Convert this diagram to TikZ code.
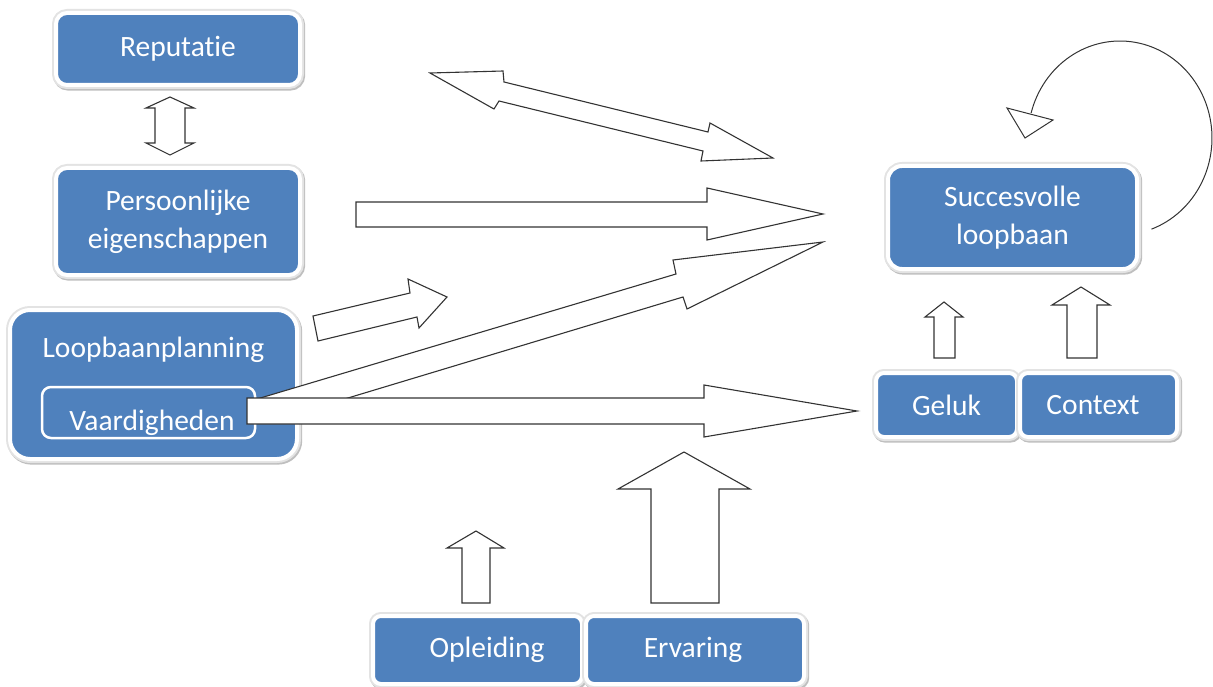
\documentclass[tikz,border=0pt]{standalone}
\usepackage{fontspec}
\setmainfont{Carlito}[Ligatures=NoCommon]
\definecolor{boxblue}{HTML}{4F81BD}
\newcommand{\boxfont}{\fontsize{29.5}{38}\selectfont}
\begin{document}
\begin{tikzpicture}[x=1pt,y=-1pt,
  box/.style={rectangle, rounded corners=11pt, fill=boxblue, draw=white, line width=4pt,
    text=white, font=\boxfont, inner sep=0pt, align=center,
    preaction={draw=black!25, line width=8pt, transform canvas={xshift=1.2pt,yshift=-1.6pt}},
    preaction={draw=black!11, line width=8pt}},
  innerbox/.style={rectangle, rounded corners=9pt, fill=boxblue, draw=white, line width=2.5pt,
    text=white, font=\boxfont, inner sep=0pt},
  boxtext/.style={text=white, font=\boxfont, inner sep=0pt},
  blockarrow/.style={draw=black!80, fill=white, line width=1.1pt, line join=miter},
  loopline/.style={draw=black!80, line width=1pt}]
\useasboundingbox (0,0) rectangle (1213,687);

% boxes
\node[box, minimum width=244pt, minimum height=72pt] (rep) at (178,49) {Reputatie};
\node[box, minimum width=244pt, minimum height=107pt] (pers) at (178,221.5) {Persoonlijke\\eigenschappen};
\node[box, rounded corners=20pt, minimum width=287pt, minimum height=149pt] (plan) at (153.5,384.5) {};
\node[boxtext] (plantxt) at (153.5,350) {Loopbaanplanning};
\node[innerbox, minimum width=213pt, minimum height=51pt, text height=35pt, text depth=0pt] (vaar) at (148.5,412.5) {\hspace*{7pt}Vaardigheden};
\node[box, rounded corners=14pt, minimum width=249pt, minimum height=103pt] (succ) at (1012.5,217.5) {Succesvolle\\loopbaan};
\node[box, rounded corners=8pt, minimum width=141pt, minimum height=64pt] (geluk) at (946.5,405) {Geluk};
\node[box, rounded corners=8pt, minimum width=157pt, minimum height=64pt] (context) at (1098.5,405) {Context\hspace*{11pt}};
\node[box, rounded corners=8pt, minimum width=209pt, minimum height=68pt] (opl) at (477.5,650) {\hspace*{19pt}Opleiding};
\node[box, rounded corners=8pt, minimum width=218pt, minimum height=68pt] (erv) at (695,650) {Ervaring\hspace*{4pt}};

% vertical double arrow Reputatie <-> Persoonlijke
\draw[blockarrow] (170,97) -- (194,108) -- (185,108) -- (185,143) -- (194,143) -- (170,155)
  -- (146,143) -- (155,143) -- (155,108) -- (146,108) -- cycle;

% diagonal double arrow (top)
\draw[blockarrow] (430,73) -- (503,71) -- (504,82) -- (708,132) -- (710,123) -- (773,158)
  -- (701,161) -- (703,151) -- (499,101) -- (494,109) -- cycle;

% Persoonlijke -> succes
\draw[blockarrow] (356,202) -- (707,202) -- (707,188) -- (823,214) -- (707,240) -- (707,227) -- (356,227) -- cycle;

% small arrow from Loopbaanplanning
\draw[blockarrow] (313,316) -- (410,293) -- (408,279) -- (447,297) -- (419,328) -- (417,317) -- (318,341) -- cycle;

% long diagonal arrow from Vaardigheden
\draw[blockarrow] (257,399) -- (676,274) -- (673,260) -- (823,242) -- (687,309) -- (683,297) -- (265,423) -- cycle;

% horizontal arrow from Vaardigheden
\draw[blockarrow] (247,398) -- (704,398) -- (704,385) -- (857,411) -- (704,437) -- (704,424) -- (247,424) -- cycle;

% Geluk / Context up arrows
\draw[blockarrow] (944,302) -- (963,317) -- (955,317) -- (955,358) -- (934,358) -- (934,317) -- (925,317) -- cycle;
\draw[blockarrow] (1081,287) -- (1110,305) -- (1097,305) -- (1097,358) -- (1067,358) -- (1067,305) -- (1052,305) -- cycle;

% Opleiding / Ervaring up arrows
\draw[blockarrow] (476,531) -- (504,548) -- (490,548) -- (490,603) -- (462,603) -- (462,548) -- (447,548) -- cycle;
\draw[blockarrow] (684,452) -- (750,489) -- (719,489) -- (719,603) -- (651,603) -- (651,489) -- (618,489) -- cycle;

% self loop on Succesvolle loopbaan
\coordinate (loopstart) at (1152,229);
\draw[loopline] (loopstart) plot[domain=-70:165, samples=90] ({1120+92*cos(\x)},{138-97*sin(\x)});
\draw[loopline, fill=white, line join=miter] (1007,108) -- (1053,120) -- (1025,138) -- cycle;
\end{tikzpicture}
\end{document}
